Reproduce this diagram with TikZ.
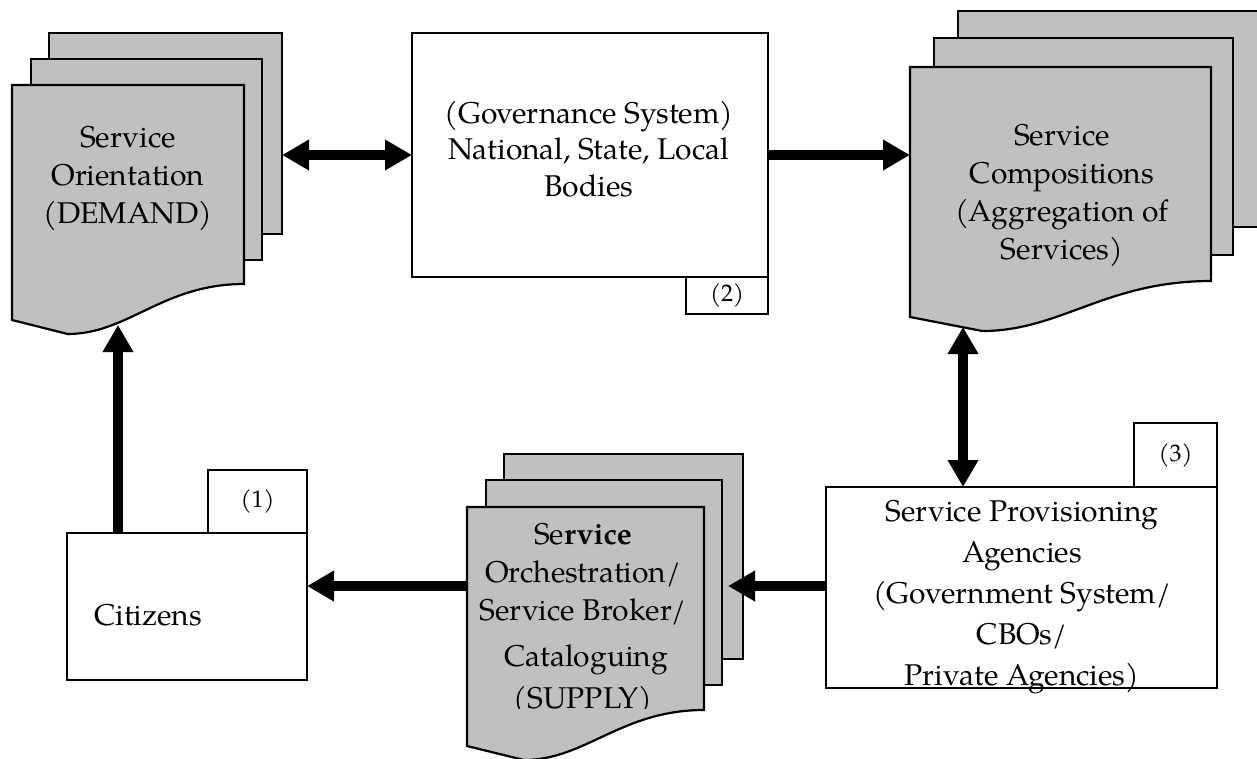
\documentclass[tikz,border=0pt]{standalone}
\usepackage{fontspec}
\setmainfont{texgyrepagella}[Extension=.otf, UprightFont=*-regular, BoldFont=*-bold, ItalicFont=*-italic, BoldItalicFont=*-bolditalic]
\usetikzlibrary{arrows.meta}
\definecolor{sheetgray}{RGB}{192,192,192}
\tikzset{
  sheet/.style={draw=black, fill=sheetgray, line width=2.2pt, line join=miter},
  sheetbox/.style={sheet, inner sep=0pt, outer sep=0pt, anchor=north west},
  plainbox/.style={draw=black, fill=white, line width=2.2pt, inner sep=0pt, outer sep=0pt, anchor=north west},
  txt/.style={font=\fontsize{30}{38}\selectfont, align=center, inner sep=0pt},
  tagtxt/.style={plainbox, font=\fontsize{24}{28}\selectfont},
  fat/.style={line width=9.5pt, -{Triangle[length=27pt,width=29pt]}},
  fatdbl/.style={line width=9.5pt, {Triangle[length=27pt,width=29pt]}-{Triangle[length=27pt,width=29pt]}},
}
% front page of a stack: L T R B (B = bottom of right edge)
\newcommand{\docfront}[4]{%
  \draw[sheet] (#1,#2) -- (#3,#2) -- (#3,#4)
    .. controls ({#3-0.35*(#3-#1)},#4) and ({#1+0.5*(#3-#1)},{#4+50}) ..
    ({#1+0.24*(#3-#1)},{#4+50}) -- (#1,{#4+36}) -- cycle;}
\begin{document}
\begin{tikzpicture}[x=1pt,y=-1pt]
\useasboundingbox (0,0) rectangle (1257,758);
\clip (0,0) rectangle (1257,758);

% ---- stack 1: Service Orientation
\node[sheetbox, minimum width=233pt, minimum height=201pt] (d1back) at (49,33) {};
\node[sheetbox, minimum width=231pt, minimum height=201pt] (d1mid) at (31,59) {};
\docfront{12}{85}{244}{284}
\node[txt] (d1text) at (128,179) {Service\\Orientation\\(DEMAND)};
\coordinate (d1tip) at (118,325);

% ---- stack 2: Service Compositions
\node[sheetbox, minimum width=320pt, minimum height=216pt] (d2back) at (958,11) {};
\node[sheetbox, minimum width=299pt, minimum height=217pt] (d2mid) at (934,38) {};
\docfront{910}{67}{1211}{281}
\node[txt] (d2text) at (1062,196) {Service\\Compositions\\(Aggregation of\\Services)};
\coordinate (d2left) at (910,155);
\coordinate (d2tip) at (963,327);

% ---- stack 3: Service Orchestration
\node[sheetbox, minimum width=239pt, minimum height=205pt] (d3back) at (504,454) {};
\node[sheetbox, minimum width=236pt, minimum height=205pt] (d3mid) at (486,480) {};
\docfront{467}{507}{704}{710}
\begin{scope}
\clip (0,0) rectangle (1257,708);
\node[txt] (d3text) at (583,620) {Se\textbf{rvice}\\Orchestration/\\Service Broker/\\[8pt]\hspace{6pt}Cataloguing\\[4pt](SUPPLY)};
\end{scope}
\coordinate (d3left) at (467,586);
\coordinate (d3tip) at (728,586);

% ---- governance
\node[plainbox, minimum width=356pt, minimum height=244pt] (gov) at (412,33) {};
\node[txt, font=\fontsize{30}{36.5}\selectfont] (govtext) at (589,149) {(Governance System)\\National, State, Local\\Bodies};
\node[tagtxt, minimum width=82pt, minimum height=37pt] (tag2) at (686,277) {(2)};

% ---- citizens
\node[plainbox, minimum width=240pt, minimum height=147pt] (cit) at (67,533) {};
\node[tagtxt, minimum width=99pt, minimum height=63pt] (tag1) at (208,470) {(1)};
\node[txt, anchor=base west] (cittext) at (94,625) {Citizens};

% ---- provisioning
\node[plainbox, minimum width=391pt, minimum height=201pt] (prov) at (826,487) {};
\node[tagtxt, minimum width=83pt, minimum height=64pt] (tag3) at (1134,423) {(3)};
\node[txt, font=\fontsize{30}{41}\selectfont] (provtext) at (1022,597) {Service Provisioning\\Agencies\\(Government System/\\CBOs/\\Private Agencies)};

% ---- connectors
\draw[fatdbl] (d1back.east |- gov.west) -- (gov.west);
\draw[fat] (gov.east) -- (d2left |- gov.east);
\draw[fatdbl] (d2tip) -- (d2tip |- prov.north);
\draw[fat] (prov.west |- d3tip) -- (d3tip);
\draw[fat] (d3left) -- (cit.east |- d3left);
\draw[fat] (d1tip |- cit.north) -- (d1tip);
\end{tikzpicture}
\end{document}
